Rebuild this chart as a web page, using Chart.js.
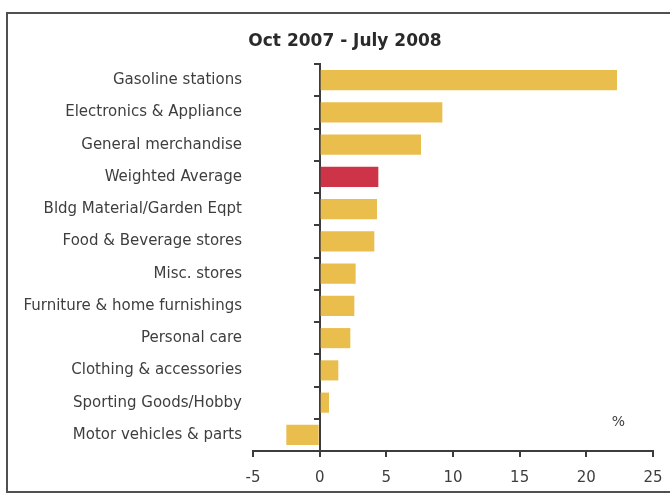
<!DOCTYPE html>
<html>
<head>
<meta charset="utf-8">
<script src="https://cdn.jsdelivr.net/npm/chart.js@4"></script>
<style>
  html, body { margin: 0; padding: 0; background: #fff; }
  #frame {
    position: absolute; left: 6px; top: 12px; width: 680px; height: 477px;
    border: 2px solid #505050;
  }
  #wrap { position: absolute; left: 0; top: 0; width: 670px; height: 494px; }
</style>
</head>
<body>
<div id="frame"></div>
<div id="wrap"><canvas id="retailChart"></canvas></div>
<script>
// Retail sales growth by store type, Oct 2007 - July 2008 (%)
const categories = [
  'Gasoline stations',
  'Electronics & Appliance',
  'General merchandise',
  'Weighted Average',
  'Bldg Material/Garden Eqpt',
  'Food & Beverage stores',
  'Misc. stores',
  'Furniture & home furnishings',
  'Personal care',
  'Clothing & accessories',
  'Sporting Goods/Hobby',
  'Motor vehicles & parts'
];
const growth = [22.3, 9.2, 7.6, 4.4, 4.3, 4.1, 2.7, 2.6, 2.3, 1.4, 0.7, -2.5];
const xTicks = [-5, 0, 5, 10, 15, 20, 25];
const highlighted = 'Weighted Average';
const chartTitle = 'Oct 2007 - July 2008';

const barYellow = 'rgb(234, 190, 76)';
const barRed = 'rgb(206, 52, 72)';
const axisColor = '#3c3c3c';
const textColor = '#3e3e3e';
const fontFamily = 'DejaVu Sans';

// title sits over the plot (offset right of the canvas centre), plus the "%" unit marker
const headings = {
  id: 'headings',
  afterDraw(chart) {
    const { ctx, scales } = chart;
    ctx.save();
    ctx.textAlign = 'center';
    ctx.textBaseline = 'middle';
    ctx.fillStyle = '#2a2a2a';
    ctx.font = 'bold 17px "' + fontFamily + '"';
    ctx.fillText(chartTitle, 345, 42);
    ctx.fillStyle = textColor;
    ctx.font = '14px "' + fontFamily + '"';
    ctx.fillText('%', scales.x.getPixelForValue(22.4), scales.y.getPixelForValue(categories.length - 1) - 13);
    ctx.restore();
  }
};

new Chart(document.getElementById('retailChart'), {
  type: 'bar',
  data: {
    labels: categories,
    datasets: [{
      data: growth,
      backgroundColor: categories.map(c => c === highlighted ? barRed : barYellow),
      categoryPercentage: 0.8,
      barPercentage: 0.78
    }]
  },
  options: {
    indexAxis: 'y',
    responsive: true,
    maintainAspectRatio: false,
    animation: false,
    layout: { padding: { left: 5, right: 17, top: 64, bottom: -5 } },
    plugins: {
      legend: { display: false },
      tooltip: { enabled: false },
      title: { display: false }
    },
    scales: {
      x: {
        min: -5,
        max: 25,
        afterBuildTicks: s => { s.ticks = xTicks.map(v => ({ value: v })); },
        // the "25" label may hang past the plot edge; don't shrink the plot for it
        afterFit: s => { s.paddingRight = 0; },
        grid: {
          drawOnChartArea: false,
          tickLength: 6,
          color: axisColor,
          lineWidth: 2
        },
        border: { color: axisColor, width: 2 },
        ticks: {
          color: textColor,
          padding: 12,
          font: { family: fontFamily, size: 15 }
        }
      },
      y: {
        position: 'left',
        afterFit: s => { s.width = 248; },
        grid: { display: false },
        border: { display: false },
        ticks: {
          color: textColor,
          padding: 3,
          font: { family: fontFamily, size: 15 }
        }
      },
      // vertical axis line through zero with tick marks between categories
      y0: {
        type: 'category',
        axis: 'y',
        labels: categories,
        position: { x: 0 },
        offset: true,
        grid: {
          offset: true,
          drawOnChartArea: false,
          tickLength: 5,
          color: axisColor,
          lineWidth: 2
        },
        border: { color: axisColor, width: 2 },
        ticks: { display: false }
      }
    }
  },
  plugins: [headings]
});
</script>
</body>
</html>
